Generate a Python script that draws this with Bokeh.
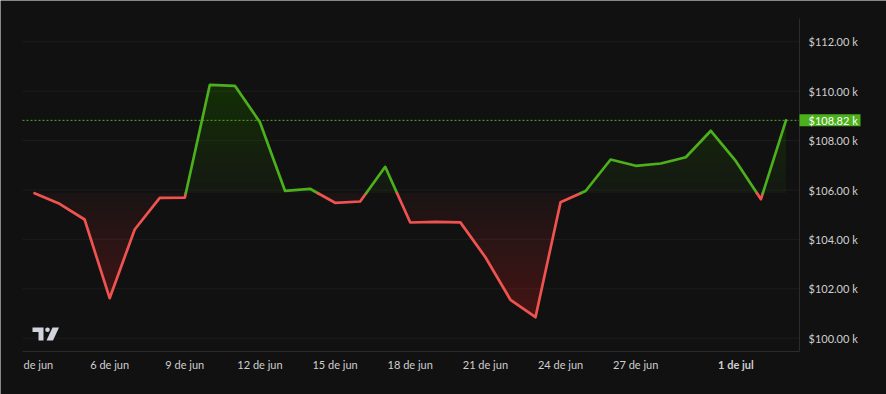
import numpy as np
import pandas as pd
from bokeh.plotting import figure
from bokeh.models import Range1d
from bokeh.embed import file_html
from bokeh.resources import INLINE

# ---------------- data ----------------
dates = pd.date_range("2025-06-03", "2025-07-03", freq="D")
prices = [105870, 105441, 104806, 101619, 104401, 105684, 105690, 110259, 110219, 108745,
          105968, 106049, 105482, 105534, 106939, 104684, 104713, 104690, 103279, 101555,
          100850, 105506, 105960, 107235, 106980, 107073, 107328, 108397, 107166, 105628,
          108820]
price_ticks = [100000, 102000, 104000, 106000, 108000, 110000, 112000]
price_tick_labels = ["$100.00 k", "$102.00 k", "$104.00 k", "$106.00 k",
                     "$108.00 k", "$110.00 k", "$112.00 k"]
date_ticks = ["2025-06-06", "2025-06-09", "2025-06-12", "2025-06-15", "2025-06-18",
              "2025-06-21", "2025-06-24", "2025-06-27"]
date_tick_labels = ["6 de jun", "9 de jun", "12 de jun", "15 de jun", "18 de jun",
                    "21 de jun", "24 de jun", "27 de jun"]
first_label = ("2025-06-03", "de jun")
month_label = ("2025-07-01", "1 de jul")
last_price_label = "$108.82 k"

# ---------------- styling ----------------
BG = "#111111"
GREEN = "#4caf1c"
RED = "#ef5350"
GRID = "#1d1d1d"
AXIS = "#2b2b2b"
TXT = "#cfcfcf"
LOGO = "#d1d4dc"
FONT = "Lato"
W, H = 886, 394

# pixel geometry of the pane (left, right, top, bottom) and scales
PANE_L, PANE_R, PANE_T, PANE_B = 22, 799, 18, 351
PX_DAY = 25.05          # pixels per day
X_DAY0 = 34.0           # pixel of the first day
PX_K = 24.7             # pixels per 1000 USD
Y_112K = 41.3           # pixel of $112k


def dx(px):  # pixel -> day
    return (px - X_DAY0) / PX_DAY


def dy(py):  # pixel -> price
    return 112000 - (py - Y_112K) / PX_K * 1000


x = np.array([(d - dates[0]).days for d in dates], dtype=float)
y = np.array(prices, dtype=float)
base = y[0]

xl, xr = dx(PANE_L), dx(PANE_R)
yb, yt = dy(PANE_B), dy(PANE_T)

p = figure(width=W, height=H, output_backend="svg", toolbar_location=None,
           x_range=Range1d(dx(0), dx(W)), y_range=Range1d(dy(H), dy(0)),
           min_border=0, min_border_left=0, min_border_right=0,
           min_border_top=0, min_border_bottom=0)
p.axis.visible = False
p.grid.visible = False
p.background_fill_color = BG
p.border_fill_color = BG
p.outline_line_color = None

# horizontal grid lines at the price ticks
p.segment(x0=[xl] * len(price_ticks), x1=[xr] * len(price_ticks),
          y0=price_ticks, y1=price_ticks, line_color=GRID, line_width=1)


def split_at(xs, ys, level):
    ox, oy = [xs[0]], [ys[0]]
    for i in range(len(xs) - 1):
        a, b = ys[i] - level, ys[i + 1] - level
        if a * b < 0:
            t = a / (a - b)
            ox.append(xs[i] + t * (xs[i + 1] - xs[i]))
            oy.append(level)
        ox.append(xs[i + 1])
        oy.append(ys[i + 1])
    return np.array(ox), np.array(oy)


# gradient fills from stacked translucent layers
N = 18
a_lo, a_hi = 0.05, 0.28


def layer_alphas(n):
    comps = [a_lo + (a_hi - a_lo) * j / (n - 1) for j in range(n)]
    alphas = [comps[0]]
    for j in range(1, n):
        alphas.append(1 - (1 - comps[j]) / (1 - comps[j - 1]))
    return alphas


alphas = layer_alphas(N)
for j in range(N):
    lvl = base + (yt - base) * j / N
    sx, sy = split_at(x, y, lvl)
    if np.any(sy > lvl):
        p.varea(x=sx, y1=np.full_like(sx, lvl), y2=np.maximum(sy, lvl),
                fill_color=GREEN, fill_alpha=alphas[j])
    lvl2 = base - (base - yb) * j / N
    sx, sy = split_at(x, y, lvl2)
    if np.any(sy < lvl2):
        p.varea(x=sx, y1=np.minimum(sy, lvl2), y2=np.full_like(sx, lvl2),
                fill_color=RED, fill_alpha=alphas[j])

# baseline-coloured line
sx, sy = split_at(x, y, base)
runs_x, runs_y, runs_c = [], [], []
cur_c = None
for i in range(len(sx) - 1):
    mid = 0.5 * (sy[i] + sy[i + 1])
    c = GREEN if mid >= base else RED
    if c != cur_c:
        runs_x.append([sx[i]])
        runs_y.append([sy[i]])
        runs_c.append(c)
        cur_c = c
    runs_x[-1].append(sx[i + 1])
    runs_y[-1].append(sy[i + 1])
p.multi_line(xs=runs_x, ys=runs_y, line_color=runs_c, line_width=2.7,
             line_join="round", line_cap="round")

# last-price dotted line
p.line(x=[xl, xr], y=[prices[-1], prices[-1]], line_color=GREEN, line_dash="2 2",
       line_width=1)

# axis borders
p.line(x=[xr, xr], y=[yb, yt], line_color=AXIS, line_width=1)
p.line(x=[xl, xr], y=[yb, yb], line_color=AXIS, line_width=1)

# price scale labels
lab_x = dx(808)
p.text(x=[lab_x] * len(price_ticks), y=price_ticks, text=price_tick_labels,
       text_align="left", text_baseline="middle", text_color=TXT,
       text_font={"value": FONT}, text_font_size="11px")

# last price tag
half = 6.0 / PX_K * 1000
p.quad(left=[xr], right=[dx(860)], bottom=[prices[-1] - half], top=[prices[-1] + half],
       fill_color=GREEN, line_color=None)
p.text(x=[dx(808)], y=[prices[-1]], text=[last_price_label], text_align="left",
       text_baseline="middle", text_color="#ffffff", text_font={"value": FONT},
       text_font_size="11px")

# time scale labels
ty = dy(364)
tick_days = [float((pd.Timestamp(d) - dates[0]).days) for d in date_ticks]
p.text(x=tick_days, y=[ty] * len(tick_days), text=date_tick_labels,
       text_align="center", text_baseline="middle", text_color=TXT,
       text_font={"value": FONT}, text_font_size="11px")
p.text(x=[dx(23)], y=[ty], text=[first_label[1]], text_align="left",
       text_baseline="middle", text_color=TXT, text_font={"value": FONT},
       text_font_size="11px")
p.text(x=[float((pd.Timestamp(month_label[0]) - dates[0]).days)], y=[ty],
       text=[month_label[1]], text_align="center", text_baseline="middle",
       text_color=TXT, text_font={"value": FONT}, text_font_size="11px",
       text_font_style="bold")

# TradingView logo (decoration)
logo_T_x = [[dx(32), dx(43), dx(43), dx(38), dx(38), dx(32)]]
logo_T_y = [[dy(327), dy(327), dy(340), dy(340), dy(331.5), dy(331.5)]]
p.patches(xs=logo_T_x, ys=logo_T_y, fill_color=LOGO, line_color=None)
p.scatter(x=[dx(47)], y=[dy(329.3)], size=4.6, fill_color=LOGO, line_color=None)
logo_S_x = [[dx(52), dx(58.5), dx(52.5), dx(46)]]
logo_S_y = [[dy(327), dy(327), dy(340), dy(340)]]
p.patches(xs=logo_S_x, ys=logo_S_y, fill_color=LOGO, line_color=None)

open("out.html", "w").write(file_html(p, INLINE))
